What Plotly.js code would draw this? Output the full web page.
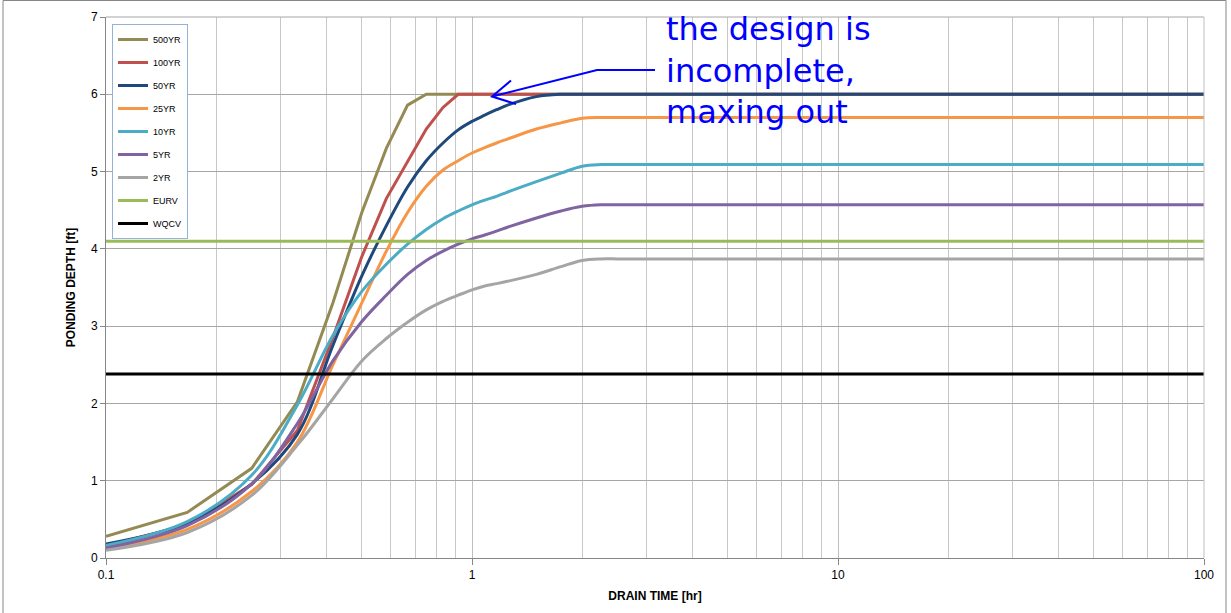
<!DOCTYPE html>
<html>
<head>
<meta charset="utf-8">
<script src="https://cdn.plot.ly/plotly-3.0.1.min.js"></script>
<style>html,body{margin:0;padding:0;background:#fff;}#chart{width:1231px;height:613px;}</style>
</head>
<body>
<div id="chart"></div>
<script>
// Drain time [hr]
var drainTime = [0.1, 0.1667, 0.25, 0.3333, 0.4167, 0.5, 0.5833, 0.6667, 0.75, 0.8333, 0.9167, 1.0, 1.0833, 1.1667, 1.25, 1.5, 1.75, 2.0, 2.25, 2.5, 3, 5, 10, 24, 50, 100];

// Ponding depth [ft]
var yr500 = [0.28, 0.59, 1.16, 2.02, 3.30, 4.47, 5.30, 5.86, 6.00, 6.00, 6.00, 6.00, 6.00, 6.00, 6.00, 6.00, 6.00, 6.00, 6.00, 6.00, 6.00, 6.00, 6.00, 6.00, 6.00, 6.00];
var yr100 = [0.15, 0.43, 0.95, 1.65, 2.85, 3.90, 4.65, 5.13, 5.55, 5.83, 6.00, 6.00, 6.00, 6.00, 6.00, 6.00, 6.00, 6.00, 6.00, 6.00, 6.00, 6.00, 6.00, 6.00, 6.00, 6.00];
var yr50  = [0.18, 0.45, 0.96, 1.60, 2.75, 3.65, 4.30, 4.80, 5.14, 5.37, 5.54, 5.65, 5.73, 5.80, 5.86, 5.97, 6.00, 6.00, 6.00, 6.00, 6.00, 6.00, 6.00, 6.00, 6.00, 6.00];
var yr25  = [0.12, 0.37, 0.86, 1.50, 2.50, 3.30, 3.97, 4.47, 4.81, 5.02, 5.14, 5.24, 5.31, 5.37, 5.42, 5.55, 5.63, 5.69, 5.70, 5.70, 5.70, 5.70, 5.70, 5.70, 5.70, 5.70];
var yr10  = [0.16, 0.47, 1.07, 1.98, 2.88, 3.45, 3.80, 4.06, 4.25, 4.39, 4.49, 4.57, 4.63, 4.68, 4.735, 4.87, 4.98, 5.07, 5.09, 5.09, 5.09, 5.09, 5.09, 5.09, 5.09, 5.09];
var yr5   = [0.13, 0.42, 0.96, 1.74, 2.55, 3.06, 3.40, 3.67, 3.85, 3.97, 4.06, 4.13, 4.18, 4.23, 4.28, 4.40, 4.49, 4.55, 4.57, 4.57, 4.57, 4.57, 4.57, 4.57, 4.57, 4.57];
var yr2   = [0.10, 0.33, 0.81, 1.46, 2.06, 2.55, 2.84, 3.05, 3.21, 3.32, 3.40, 3.47, 3.52, 3.55, 3.58, 3.67, 3.77, 3.85, 3.87, 3.87, 3.87, 3.87, 3.87, 3.87, 3.87, 3.87];

var refTime = [0.1, 100];
var eurv = [4.1, 4.1];
var wqcv = [2.38, 2.38];

var seriesNames = ["500YR", "100YR", "50YR", "25YR", "10YR", "5YR", "2YR", "EURV", "WQCV"];
var seriesColors = ["#948A54", "#C0504D", "#1F497D", "#F79646", "#4BACC6", "#8064A2", "#A5A5A5", "#9BBB59", "#000000"];
var seriesX = [drainTime, drainTime, drainTime, drainTime, drainTime, drainTime, drainTime, refTime, refTime];
var seriesY = [yr500, yr100, yr50, yr25, yr10, yr5, yr2, eurv, wqcv];
var seriesShape = ["linear", "linear", "spline", "spline", "spline", "spline", "spline", "linear", "linear"];

var traces = seriesNames.map(function (n, i) {
  return {
    x: seriesX[i], y: seriesY[i], name: n, type: "scatter", mode: "lines",
    legendgroup: n,
    line: {color: seriesColors[i], width: 3, shape: seriesShape[i], smoothing: 1}
  };
});

// minor grid positions for log axis
var minorVals = [];
[0.1, 1, 10].forEach(function (d) { for (var k = 2; k <= 9; k++) minorVals.push(d * k); });

// pixel helpers for decorations (paper coordinates)
var L = 106, R = 27, T = 17, B = 55, W = 1231, H = 613;
var pw = W - L - R, ph = H - T - B;
function px(x) { return (x - L) / pw; }
function py(y) { return 1 - (y - T) / ph; }

var arrowPath = "M " + px(655) + " " + py(70) + " L " + px(597) + " " + py(70) + " L " + px(492) + " " + py(96.5) +
  " M " + px(511) + " " + py(80.5) + " L " + px(492) + " " + py(96.5) + " L " + px(516) + " " + py(104);

var FONT = "Liberation Sans, Arial, sans-serif";

var layout = {
  width: W, height: H,
  margin: {l: L, r: R, t: T, b: B, pad: 0},
  paper_bgcolor: "#ffffff", plot_bgcolor: "#ffffff",
  font: {family: FONT, size: 12, color: "#000"},
  showlegend: true,
  legend: {
    x: px(112), y: py(24), xanchor: "left", yanchor: "top",
    bgcolor: "#ffffff", bordercolor: "#95B3D7", borderwidth: 1,
    font: {family: FONT, size: 9, color: "#000"},
    traceorder: "grouped", tracegroupgap: 4, itemwidth: 30
  },
  xaxis: {
    type: "log", range: [-1, 2],
    tickmode: "array", tickvals: [0.1, 1, 10, 100], ticktext: ["0.1", "1", "10", "100"],
    ticks: "outside", ticklen: 6, tickcolor: "#868686", tickwidth: 1,
    showline: true, linecolor: "#868686", linewidth: 1, mirror: false,
    showgrid: true, gridcolor: "#BFBFBF", gridwidth: 1,
    minor: {tickmode: "array", tickvals: minorVals, showgrid: true, gridcolor: "#C8C8C8", gridwidth: 1, ticks: ""},
    zeroline: false,
    tickfont: {family: FONT, size: 12, color: "#000"},
    title: {text: "<b>DRAIN TIME [hr]</b>", font: {family: FONT, size: 12, color: "#000"}, standoff: 10}
  },
  yaxis: {
    range: [0, 7], tickmode: "array", tickvals: [0, 1, 2, 3, 4, 5, 6, 7],
    ticks: "outside", ticklen: 5, tickcolor: "#868686", tickwidth: 1,
    showline: true, linecolor: "#868686", linewidth: 1,
    showgrid: true, gridcolor: "#A6A6A6", gridwidth: 1,
    zeroline: false,
    tickfont: {family: FONT, size: 12, color: "#000"},
    title: {text: "<b>PONDING DEPTH [ft]</b>", font: {family: FONT, size: 12, color: "#000"}, standoff: 12}
  },
  shapes: [
    {type: "line", xref: "paper", yref: "paper", x0: 0, x1: 1, y0: 1, y1: 1, line: {color: "#A6A6A6", width: 1}},
    {type: "line", xref: "paper", yref: "paper", x0: 1, x1: 1, y0: 0, y1: 1, line: {color: "#BFBFBF", width: 1}},
    {type: "rect", xref: "paper", yref: "paper", x0: px(3), x1: px(1226), y0: py(625), y1: py(0.5), line: {color: "#868686", width: 1}, fillcolor: "rgba(0,0,0,0)", layer: "below"},
    {type: "path", xref: "paper", yref: "paper", path: arrowPath, line: {color: "#0000FF", width: 2}}
  ],
  annotations: [
    {xref: "paper", yref: "paper", x: px(664), y: py(70), xanchor: "left", yanchor: "middle", align: "left",
     showarrow: false, text: "the design is<br>incomplete,<br>maxing out",
     font: {family: "DejaVu Sans, sans-serif", size: 32, color: "#0000FF"}}
  ]
};

Plotly.newPlot("chart", traces, layout, {displayModeBar: false, staticPlot: true});
</script>
</body>
</html>
